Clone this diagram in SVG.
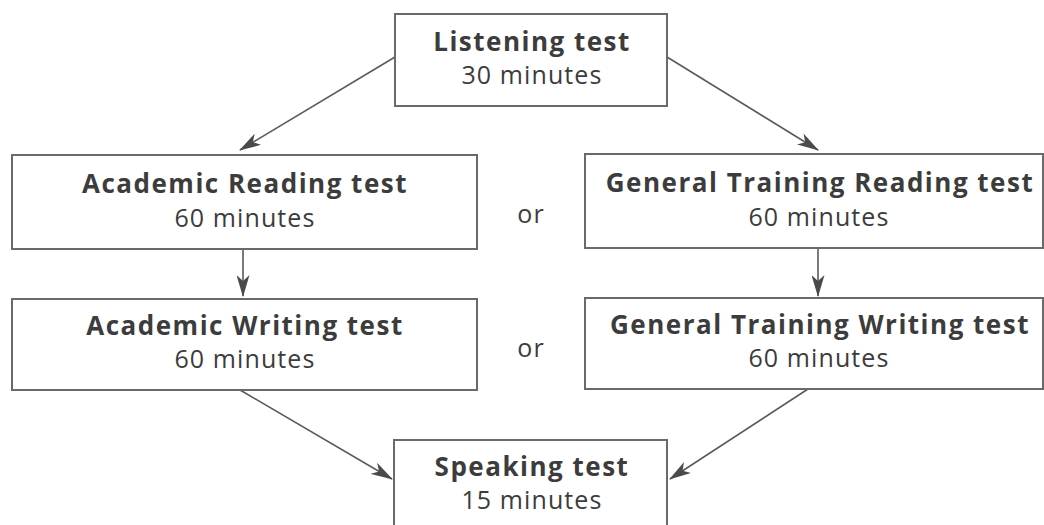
<svg xmlns="http://www.w3.org/2000/svg" width="1044" height="525" viewBox="0 0 1044 525">
<style>
.box{fill:#ffffff;stroke:#6a6a6a;stroke-width:2}
.t{font-family:"Open Sans","Noto Sans",sans-serif;font-size:26px;font-weight:bold;letter-spacing:1.5px;fill:#3c3c3c;text-anchor:middle}
.s{font-family:"Open Sans","Noto Sans",sans-serif;font-size:25px;letter-spacing:1.1px;fill:#3c3c3c;text-anchor:middle}
.c{stroke:#5a5a5a;stroke-width:1.6;fill:none;marker-end:url(#ah)}
</style>
<defs>
<marker id="ah" viewBox="0 0 22 13" refX="21" refY="6.5" markerWidth="22" markerHeight="13" markerUnits="userSpaceOnUse" orient="auto">
<path d="M0,0 L22,6.5 L0,13 L6,6.5 Z" fill="#4a4a4a"/>
</marker>
</defs>
<rect width="1044" height="525" fill="#ffffff"/>
<g id="connectors">
<line class="c" x1="395" y1="57" x2="240" y2="150"/>
<line class="c" x1="667" y1="57" x2="818" y2="150"/>
<line class="c" x1="243" y1="249" x2="243" y2="296"/>
<line class="c" x1="818" y1="248" x2="818" y2="296"/>
<line class="c" x1="240" y1="390" x2="392" y2="479"/>
<line class="c" x1="808" y1="389" x2="670" y2="479"/>
</g>
<g id="listening">
<rect class="box" x="395" y="14" width="272" height="92"/>
<text class="t" x="532" y="51">Listening test</text>
<text class="s" x="532" y="84">30 minutes</text>
</g>
<g id="academic-reading">
<rect class="box" x="12" y="155" width="465" height="94"/>
<text class="t" x="245" y="193">Academic Reading test</text>
<text class="s" x="245" y="227">60 minutes</text>
</g>
<g id="general-reading">
<rect class="box" x="585" y="154" width="458" height="94"/>
<text class="t" x="820" y="192">General Training Reading test</text>
<text class="s" x="819" y="226">60 minutes</text>
</g>
<g id="or1"><text class="s" x="531" y="223">or</text></g>
<g id="academic-writing">
<rect class="box" x="12" y="299" width="465" height="91"/>
<text class="t" x="245" y="335">Academic Writing test</text>
<text class="s" x="245" y="368">60 minutes</text>
</g>
<g id="general-writing">
<rect class="box" x="585" y="298" width="458" height="91"/>
<text class="t" x="820" y="334">General Training Writing test</text>
<text class="s" x="819" y="367">60 minutes</text>
</g>
<g id="or2"><text class="s" x="531" y="357">or</text></g>
<g id="speaking">
<rect class="box" x="394" y="440" width="273" height="95"/>
<text class="t" x="532" y="476">Speaking test</text>
<text class="s" x="532" y="509">15 minutes</text>
</g>
</svg>
